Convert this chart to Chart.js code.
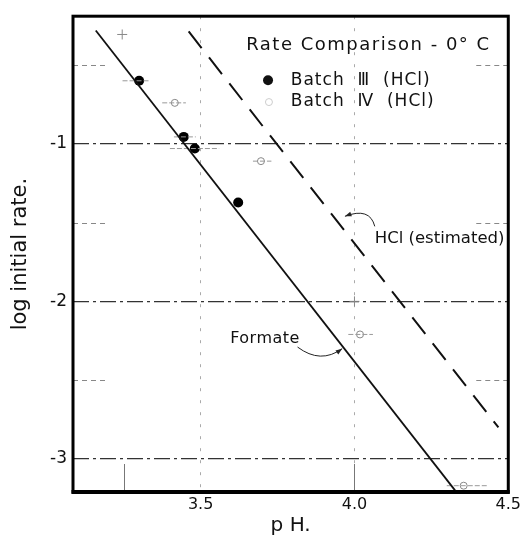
<!DOCTYPE html>
<html><head><meta charset="utf-8">
<script src="https://cdn.jsdelivr.net/npm/chart.js@4"></script>
<style>html,body{margin:0;padding:0;background:#fff}canvas{display:block}</style>
</head><body>
<canvas id="c" width="524" height="538"></canvas>
<script>
// ---- data ----
const xTickValues = [3.5, 4.0, 4.5];
const yTickValues = [-3, -2, -1];
const xMinorTicks = [3.25, 4.0];
const yMinorTicks = [-2.5, -1.5, -0.5];

const batch3X = [3.300, 3.445, 3.481, 3.622];
const batch3Y = [-0.60, -0.956, -1.03, -1.372];
const batch3ErrLo = [3.246, 3.413, 3.40, null];
const batch3ErrHi = [3.334, 3.484, 3.56, null];

const batch4X = [3.416, 3.696, 4.018, 4.355];
const batch4Y = [-0.74, -1.11, -2.21, -3.17];
const batch4ErrLo = [3.375, 3.67, 3.98, 4.30];
const batch4ErrHi = [3.452, 3.73, 4.06, 4.43];

const formateX = [3.159, 4.327];
const formateY = [-0.281, -3.20];
const hclX = [3.461, 4.468];
const hclY = [-0.287, -2.80];

const crossX = [3.245, 4.0];
const crossY = [-0.306, -2.0];

const noteTexts = ['Formate', 'HCl (estimated)'];
const noteX = [3.596, 4.066];
const noteY = [-2.24, -1.60];
const arrowStartX = [3.815, 4.066], arrowStartY = [-2.29, -1.524];
const arrowCtrlX  = [3.89, 4.05],  arrowCtrlY  = [-2.40, -1.40];
const arrowEndX   = [3.96, 3.969], arrowEndY   = [-2.30, -1.46];

const legendTitle = 'Rate Comparison - 0° C';
const legendLabels = ['Batch  Ⅲ  (HCl)', 'Batch  Ⅳ  (HCl)'];
const legendX = 3.648, legendTitleY = -0.375;
const legendMarkX = [3.719, 3.722];
const legendTextX = 3.793;
const legendY = [-0.596, -0.735];

// ---- helpers ----
const pts = (xs, ys) => xs.map((x, i) => ({x, y: ys[i]}));
const errSegs = (lo, hi, ys) => {
  const out = [];
  lo.forEach((l, i) => { if (l != null) { out.push({x: l, y: ys[i]}, {x: hi[i], y: ys[i]}, {x: hi[i], y: null}); } });
  return out;
};
const FONT = 'DejaVu Sans';

const decor = {
  id: 'decor',
  beforeDatasetsDraw(chart) {
    const {ctx, chartArea: a, scales: {x, y}} = chart;
    ctx.save();
    ctx.strokeStyle = '#888'; ctx.lineWidth = 1;
    ctx.setLineDash([5, 4]);
    yMinorTicks.forEach(v => {
      const py = Math.round(y.getPixelForValue(v)) + 0.5;
      ctx.beginPath(); ctx.moveTo(a.left, py); ctx.lineTo(a.left + 32, py); ctx.stroke();
      ctx.beginPath(); ctx.moveTo(a.right - 32, py); ctx.lineTo(a.right, py); ctx.stroke();
    });
    ctx.setLineDash([]);
    ctx.strokeStyle = '#777';
    xMinorTicks.forEach(v => {
      const px = Math.round(x.getPixelForValue(v)) + 0.5;
      ctx.beginPath(); ctx.moveTo(px, a.bottom); ctx.lineTo(px, a.bottom - 28); ctx.stroke();
    });
    ctx.restore();
  },
  afterDatasetsDraw(chart) {
    const {ctx, scales: {x, y}} = chart;
    ctx.save();
    ctx.fillStyle = '#111';
    ctx.textBaseline = 'middle';
    ctx.textAlign = 'left';
    // notes
    ctx.font = '16px "' + FONT + '"';
    ctx.letterSpacing = '0.5px';
    ctx.fillText(noteTexts[0], x.getPixelForValue(noteX[0]), y.getPixelForValue(noteY[0]));
    ctx.letterSpacing = '0px';
    ctx.font = '16.5px "' + FONT + '"';
    ctx.fillText(noteTexts[1], x.getPixelForValue(noteX[1]), y.getPixelForValue(noteY[1]));
    // arrows
    ctx.strokeStyle = '#222'; ctx.lineWidth = 1;
    noteTexts.forEach((t, i) => {
      const sx = x.getPixelForValue(arrowStartX[i]), sy = y.getPixelForValue(arrowStartY[i]);
      const cx = x.getPixelForValue(arrowCtrlX[i]), cy = y.getPixelForValue(arrowCtrlY[i]);
      const ex = x.getPixelForValue(arrowEndX[i]), ey = y.getPixelForValue(arrowEndY[i]);
      ctx.beginPath(); ctx.moveTo(sx, sy); ctx.quadraticCurveTo(cx, cy, ex, ey); ctx.stroke();
      const ang = Math.atan2(ey - cy, ex - cx);
      ctx.beginPath();
      ctx.moveTo(ex, ey);
      ctx.lineTo(ex - 7 * Math.cos(ang - 0.35), ey - 7 * Math.sin(ang - 0.35));
      ctx.lineTo(ex - 7 * Math.cos(ang + 0.35), ey - 7 * Math.sin(ang + 0.35));
      ctx.closePath(); ctx.fillStyle = '#222'; ctx.fill();
    });
    // legend
    ctx.fillStyle = '#111';
    ctx.font = '18px "' + FONT + '"';
    ctx.letterSpacing = '1.5px';
    ctx.fillText(legendTitle, x.getPixelForValue(legendX), y.getPixelForValue(legendTitleY));
    ctx.font = '17px "' + FONT + '"';
    ctx.letterSpacing = '1px';
    legendLabels.forEach((t, i) => ctx.fillText(t, x.getPixelForValue(legendTextX), y.getPixelForValue(legendY[i])));
    ctx.beginPath();
    ctx.arc(x.getPixelForValue(legendMarkX[0]), y.getPixelForValue(legendY[0]), 5, 0, Math.PI * 2);
    ctx.fill();
    ctx.beginPath();
    ctx.strokeStyle = '#ccc';
    ctx.arc(x.getPixelForValue(legendMarkX[1]), y.getPixelForValue(legendY[1]), 3.5, 0, Math.PI * 2);
    ctx.stroke();
    ctx.restore();
  },
  afterDraw(chart) {
    const {ctx, chartArea: a} = chart;
    ctx.save();
    ctx.strokeStyle = '#000';
    ctx.lineWidth = 3;
    ctx.strokeRect(a.left, a.top, a.right - a.left, a.bottom - a.top);
    ctx.lineWidth = 4;
    ctx.beginPath(); ctx.moveTo(a.left - 1.5, a.bottom); ctx.lineTo(a.right + 1.5, a.bottom); ctx.stroke();
    ctx.restore();
  }
};

new Chart(document.getElementById('c'), {
  type: 'scatter',
  data: {
    datasets: [
      {label: 'Formate', data: pts(formateX, formateY), showLine: true, borderColor: '#111', borderWidth: 1.8, pointRadius: 0},
      {label: 'HCl (estimated)', data: pts(hclX, hclY), showLine: true, borderColor: '#111', borderWidth: 2, borderDash: [21, 12], pointRadius: 0},
      {label: 'err3', data: errSegs(batch3ErrLo, batch3ErrHi, batch3Y), showLine: true, spanGaps: false, borderColor: '#999', borderWidth: 1, borderDash: [5, 2], pointRadius: 0},
      {label: 'err4', data: errSegs(batch4ErrLo, batch4ErrHi, batch4Y), showLine: true, spanGaps: false, borderColor: '#999', borderWidth: 1, borderDash: [5, 2], pointRadius: 0},
      {label: 'Batch III (HCl)', data: pts(batch3X, batch3Y), pointRadius: 5, backgroundColor: '#000', borderColor: '#000', borderWidth: 0},
      {label: 'Batch IV (HCl)', data: pts(batch4X, batch4Y), pointRadius: 3.5, backgroundColor: '#fff', borderColor: '#888', borderWidth: 1},
      {label: 'marks', data: pts(crossX, crossY), pointStyle: 'cross', pointRadius: 5, borderColor: '#888', borderWidth: 1}
    ]
  },
  options: {
    responsive: false,
    animation: false,
    devicePixelRatio: 1,
    layout: {padding: {left: 0, right: 11, top: 13, bottom: 0}},
    plugins: {legend: {display: false}, tooltip: {enabled: false}},
    scales: {
      x: {
        type: 'linear', min: 3.085, max: 4.5,
        afterBuildTicks: s => { s.ticks = xTickValues.map(v => ({value: v})); },
        afterFit: s => { s.height = 46; },
        ticks: {callback: v => Number(v).toFixed(1), font: {family: FONT, size: 16}, color: '#111', padding: 3, maxRotation: 0},
        grid: {drawTicks: false, lineWidth: 1, color: c => (c.tick && c.tick.value < 4.49) ? '#aaa' : 'rgba(0,0,0,0)'},
        border: {display: false, dash: [3, 9]},
        title: {display: true, text: 'p H.', font: {family: FONT, size: 20}, color: '#111', padding: {top: 0, bottom: 0}}
      },
      y: {
        type: 'linear', min: -3.21, max: -0.19,
        afterBuildTicks: s => { s.ticks = yTickValues.map(v => ({value: v})); },
        afterFit: s => { s.width = 73; },
        ticks: {callback: v => String(v), font: {family: FONT, size: 17}, color: '#111', padding: 6},
        grid: {drawTicks: false, lineWidth: 1.2, color: '#333'},
        border: {display: false, dash: [16, 4, 3, 4]},
        title: {display: true, text: 'log initial rate.', font: {family: FONT, size: 21}, color: '#111', padding: {top: 8, bottom: 0}}
      }
    }
  },
  plugins: [decor]
});
</script>
</body></html>
